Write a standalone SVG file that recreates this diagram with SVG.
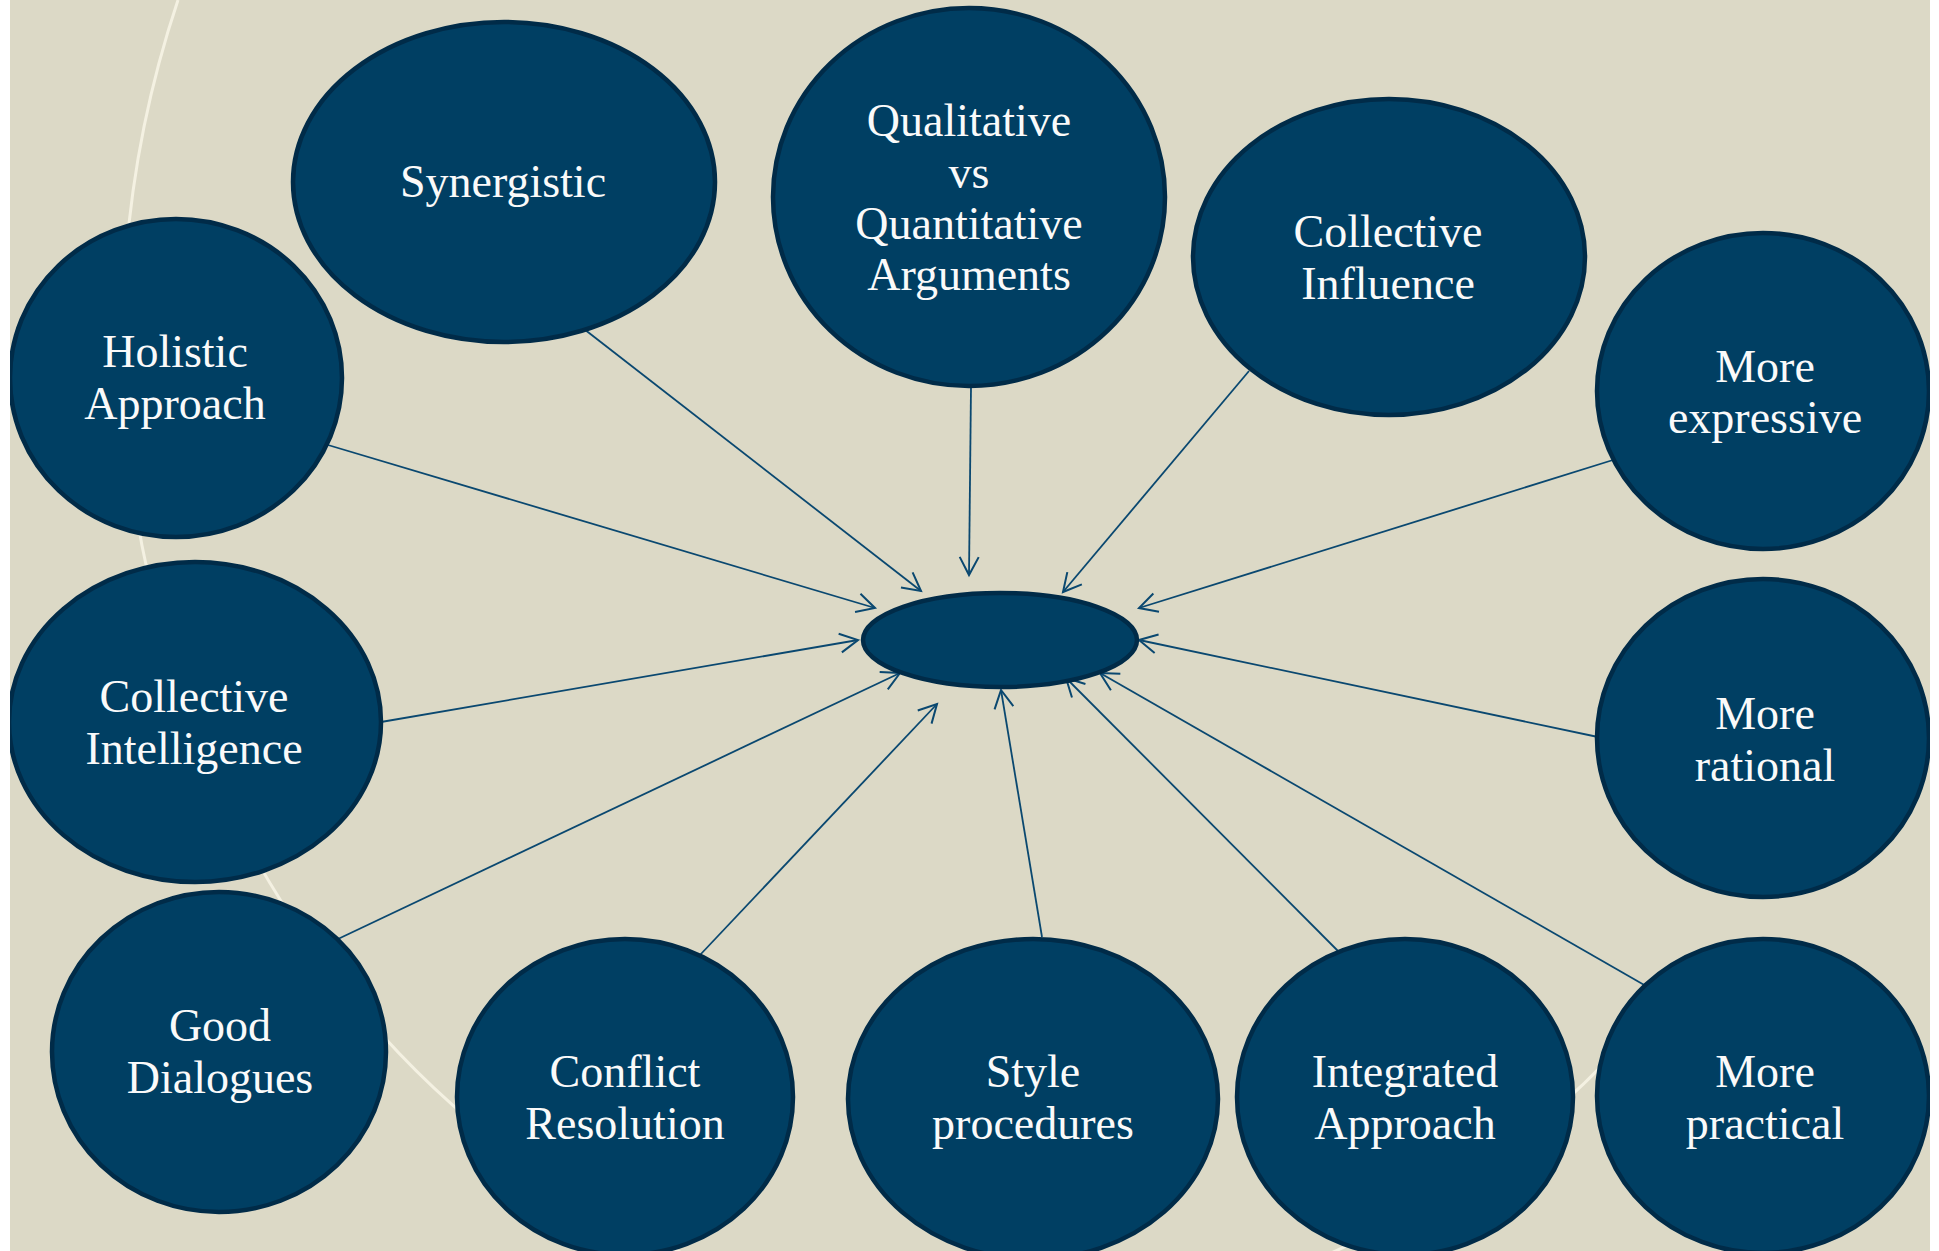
<svg xmlns="http://www.w3.org/2000/svg" width="1939" height="1251" viewBox="0 0 1939 1251">
<defs>
<style>
.node{fill:#003F63;stroke:#002B48;stroke-width:4.5}
.lbl{font-family:"Liberation Serif","Times New Roman",serif;font-size:46px;fill:#FAFAFA;text-anchor:middle}
.conn{stroke:#0A4870;stroke-width:1.8;fill:none;marker-end:url(#arr)}
</style>
<marker id="arr" markerUnits="userSpaceOnUse" markerWidth="40" markerHeight="40" refX="0" refY="0" viewBox="-20 -20 40 40" orient="auto" overflow="visible">
<polyline points="-18,-9.5 0,0 -18,9.5" fill="none" stroke="#0A4870" stroke-width="2"/>
</marker>
<clipPath id="pg"><rect x="10" y="0" width="1920" height="1251"/></clipPath>
</defs>
<rect x="0" y="0" width="1939" height="1251" fill="#FFFFFF"/>
<g clip-path="url(#pg)">
<rect x="10" y="0" width="1920" height="1251" fill="#DCD9C6"/>
<path d="M178,0 A884,980 0 0,0 1640,1025" fill="none" stroke="#F4F1E2" stroke-width="3"/>
<g id="connectors">
<line class="conn" x1="328" y1="445" x2="875" y2="608"/>
<line class="conn" x1="584" y1="329" x2="921" y2="591"/>
<line class="conn" x1="971" y1="387" x2="969" y2="575"/>
<line class="conn" x1="1249" y1="371" x2="1063" y2="592"/>
<line class="conn" x1="1613" y1="460" x2="1139" y2="608"/>
<line class="conn" x1="381" y1="722" x2="858" y2="640"/>
<line class="conn" x1="1598" y1="737" x2="1139" y2="640"/>
<line class="conn" x1="338" y1="939" x2="900" y2="673"/>
<line class="conn" x1="700" y1="955" x2="937" y2="704"/>
<line class="conn" x1="1042" y1="937" x2="1001" y2="690"/>
<line class="conn" x1="1339" y1="952" x2="1066" y2="678"/>
<line class="conn" x1="1646" y1="986" x2="1100" y2="673"/>
</g>
<g id="center"><ellipse class="node" cx="1000" cy="640" rx="137" ry="47"/></g>
<g id="synergistic"><ellipse class="node" cx="504" cy="182" rx="211" ry="160"/><text class="lbl" x="503" y="197">Synergistic</text></g>
<g id="qualitative"><ellipse class="node" cx="969" cy="197" rx="196" ry="189"/><text class="lbl" x="969"><tspan x="969" y="136">Qualitative</tspan><tspan x="969" y="188">vs</tspan><tspan x="969" y="239">Quantitative</tspan><tspan x="969" y="290">Arguments</tspan></text></g>
<g id="collective-influence"><ellipse class="node" cx="1389" cy="257" rx="196" ry="158"/><text class="lbl"><tspan x="1388" y="247">Collective</tspan><tspan x="1388" y="299">Influence</tspan></text></g>
<g id="more-expressive"><ellipse class="node" cx="1763" cy="391" rx="166" ry="158"/><text class="lbl"><tspan x="1765" y="382">More</tspan><tspan x="1765" y="433">expressive</tspan></text></g>
<g id="holistic"><ellipse class="node" cx="176" cy="378" rx="166" ry="159"/><text class="lbl"><tspan x="175" y="367">Holistic</tspan><tspan x="175" y="419">Approach</tspan></text></g>
<g id="collective-intelligence"><ellipse class="node" cx="195" cy="722" rx="186" ry="160"/><text class="lbl"><tspan x="194" y="712">Collective</tspan><tspan x="194" y="764">Intelligence</tspan></text></g>
<g id="more-rational"><ellipse class="node" cx="1763" cy="738" rx="166" ry="159"/><text class="lbl"><tspan x="1765" y="729">More</tspan><tspan x="1765" y="781">rational</tspan></text></g>
<g id="good-dialogues"><ellipse class="node" cx="219" cy="1052" rx="167" ry="160"/><text class="lbl"><tspan x="220" y="1041">Good</tspan><tspan x="220" y="1093">Dialogues</tspan></text></g>
<g id="conflict-resolution"><ellipse class="node" cx="625" cy="1097" rx="168" ry="158"/><text class="lbl"><tspan x="625" y="1087">Conflict</tspan><tspan x="625" y="1139">Resolution</tspan></text></g>
<g id="style-procedures"><ellipse class="node" cx="1033" cy="1099" rx="185" ry="160"/><text class="lbl"><tspan x="1033" y="1087">Style</tspan><tspan x="1033" y="1139">procedures</tspan></text></g>
<g id="integrated-approach"><ellipse class="node" cx="1405" cy="1097" rx="168" ry="158"/><text class="lbl"><tspan x="1405" y="1087">Integrated</tspan><tspan x="1405" y="1139">Approach</tspan></text></g>
<g id="more-practical"><ellipse class="node" cx="1763" cy="1096" rx="166" ry="157"/><text class="lbl"><tspan x="1765" y="1087">More</tspan><tspan x="1765" y="1139">practical</tspan></text></g>
</g>
</svg>
